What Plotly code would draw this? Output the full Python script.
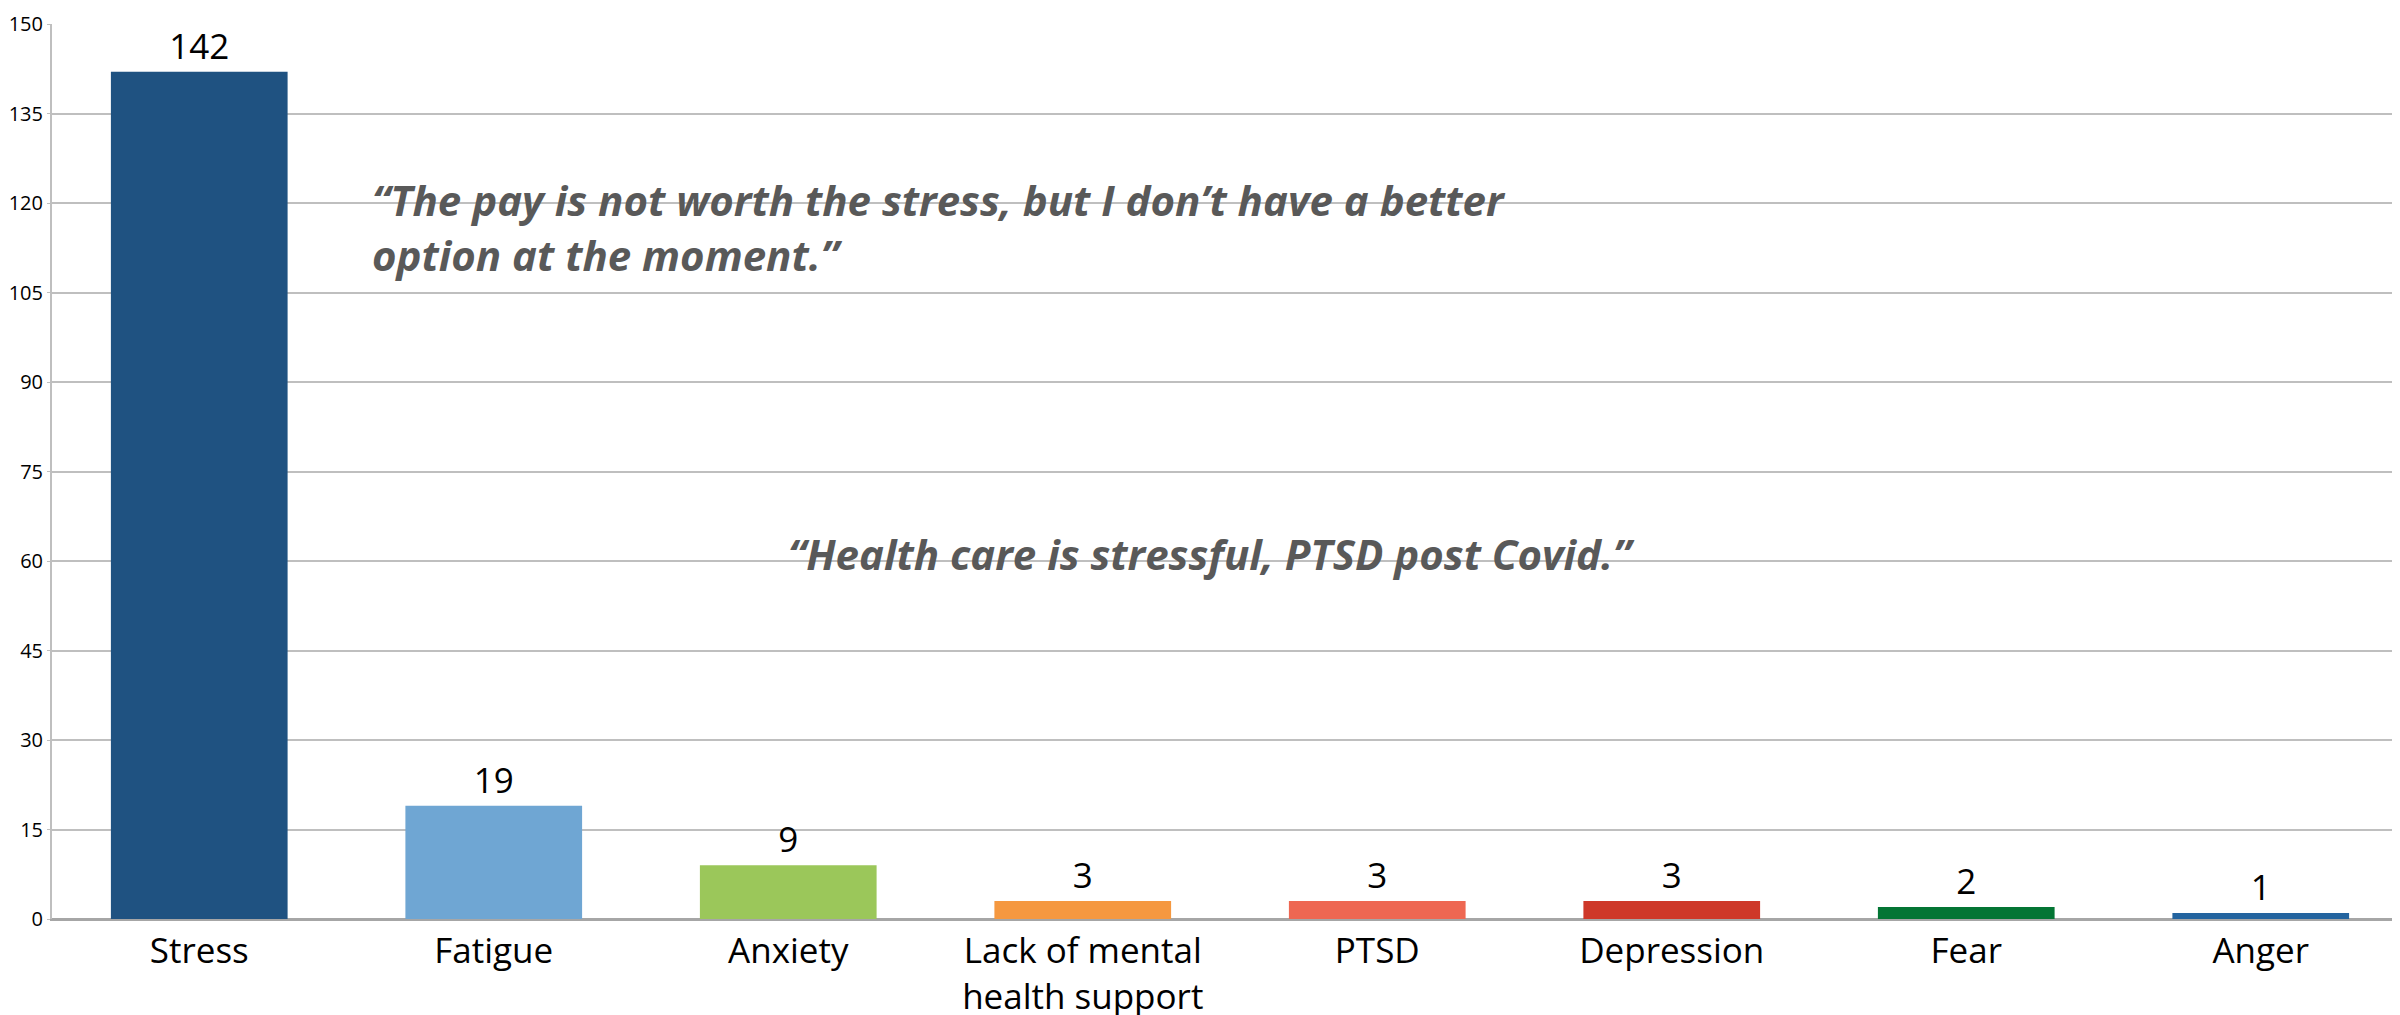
import plotly.graph_objects as go

categories = ["Stress", "Fatigue", "Anxiety", "Lack of mental<br>health support",
              "PTSD", "Depression", "Fear", "Anger"]
values = [142, 19, 9, 3, 3, 3, 2, 1]
colors = ["#1F5281", "#6FA6D3", "#9BC75A", "#F59840", "#EE6752", "#CE3829", "#037534", "#23649F"]
y_ticks = [0, 15, 30, 45, 60, 75, 90, 105, 120, 135, 150]
quote_1 = "“The pay is not worth the stress, but I don’t have a better<br>option at the moment.”"
quote_2 = "“Health care is stressful, PTSD post Covid.”"

FONT = "Open Sans"

fig = go.Figure()
fig.add_trace(go.Bar(
    x=categories, y=values,
    marker=dict(color=colors, line=dict(width=0)),
    text=[str(v) for v in values],
    textposition="outside",
    textfont=dict(family=FONT, size=35, color="#000000"),
    cliponaxis=False,
))

fig.add_annotation(
    text=quote_1, xref="paper", yref="y", x=0.135, y=116,
    xanchor="left", yanchor="middle", align="left", showarrow=False,
    font=dict(family=FONT, size=42, color="#595959", weight="bold", style="italic"),
)
fig.add_annotation(
    text=quote_2, xref="paper", yref="y", x=0.492, y=61.3,
    xanchor="center", yanchor="middle", align="center", showarrow=False,
    font=dict(family=FONT, size=42, color="#595959", weight="bold", style="italic"),
)

fig.update_layout(
    width=2400, height=1015,
    margin=dict(l=44, r=0, t=16, b=104),
    paper_bgcolor="white", plot_bgcolor="white",
    bargap=0.4, showlegend=False,
    font=dict(family=FONT, color="#000000"),
)
fig.update_xaxes(
    tickfont=dict(family=FONT, size=35, color="#000000"),
    showline=True, linecolor="#A6A6A6", linewidth=2,
    ticks="", showgrid=False, automargin=False,
)
fig.update_yaxes(
    range=[0, 150], tickvals=y_ticks,
    tickfont=dict(family=FONT, size=20, color="#000000"),
    showgrid=True, gridcolor="#BFBFBF", gridwidth=2,
    showline=True, linecolor="#BFBFBF", linewidth=2,
    ticks="outside", ticklen=3, tickcolor="#BFBFBF",
    zeroline=True, zerolinecolor="#A6A6A6", zerolinewidth=2,
    automargin=False, ticklabeloverflow="allow",
)

fig.write_html("out.html")
